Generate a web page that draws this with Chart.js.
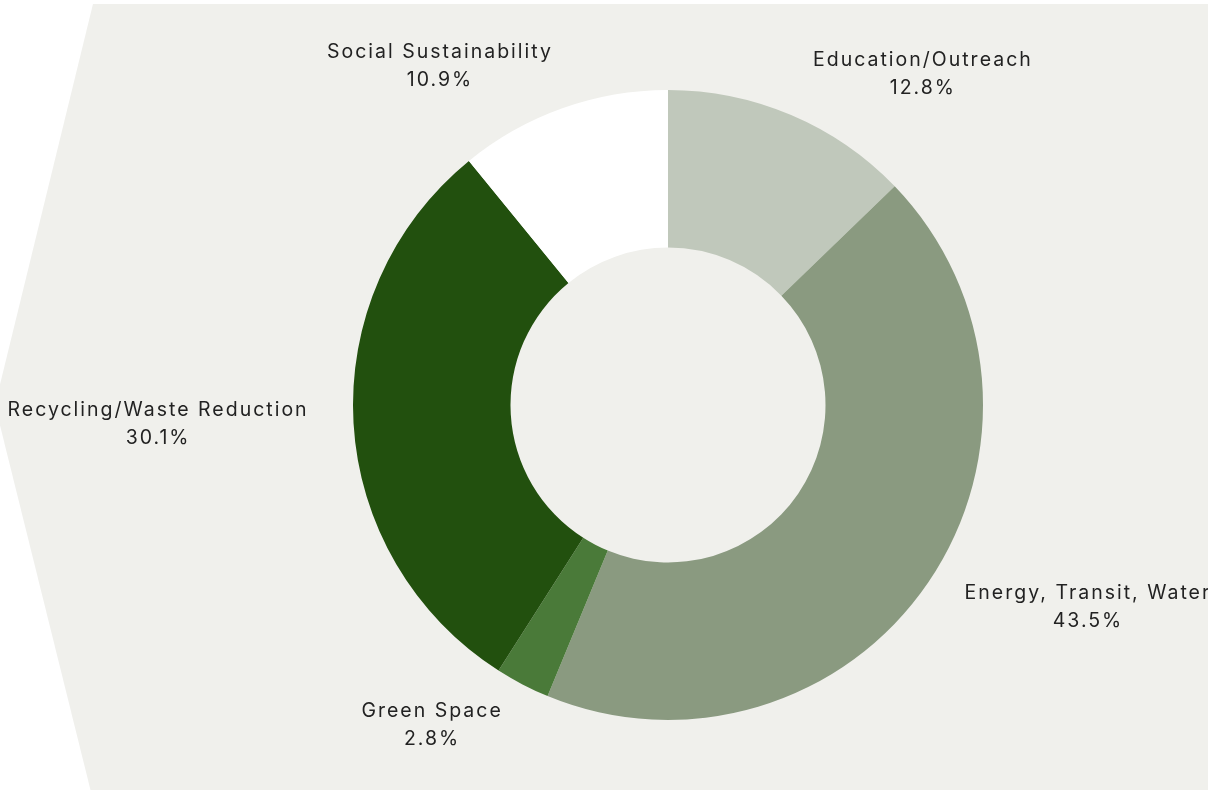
<!DOCTYPE html>
<html>
<head>
<meta charset="utf-8">
<script src="https://cdn.jsdelivr.net/npm/chart.js@4"></script>
<style>
  html, body { margin: 0; padding: 0; background: #ffffff; }
  #wrap { width: 1208px; height: 790px; position: relative; }
</style>
</head>
<body>
<div id="wrap"><canvas id="chart" width="1208" height="790"></canvas></div>
<script>
// Data (clockwise from 12 o'clock)
const categories = ['Education/Outreach', 'Energy, Transit, Water', 'Green Space', 'Recycling/Waste Reduction', 'Social Sustainability'];
const shares     = [12.8, 43.5, 2.8, 30.1, 10.9];
const sliceColors = ['#c0c8bb', '#8a9a80', '#4a7a39', '#22500e', '#ffffff'];

// label anchor, relative to the doughnut centre, in units of outer radius
const labelOffsets = [[0.806, -1.051], [1.330, 0.641], [-0.752, 1.016], [-1.622, 0.060], [-0.727, -1.076]];

// pale hexagon-ish panel behind the chart
const panelPlugin = {
  id: 'panel',
  beforeDraw(chart) {
    const ctx = chart.ctx;
    const w = chart.width, h = chart.height;
    ctx.save();
    ctx.fillStyle = '#ffffff';
    ctx.fillRect(0, 0, w, h);
    ctx.fillStyle = '#f0f0ec';
    ctx.beginPath();
    ctx.moveTo(93, 4);
    ctx.lineTo(w, 4);
    ctx.lineTo(w, h + 10);
    ctx.lineTo(93, h + 10);
    ctx.lineTo(-5, 405);
    ctx.closePath();
    ctx.fill();
    ctx.restore();
  }
};

const labelPlugin = {
  id: 'sliceLabels',
  afterDatasetsDraw(chart) {
    const ctx = chart.ctx;
    const arcs = chart.getDatasetMeta(0).data;
    ctx.save();
    ctx.font = '400 19.5px Inter, "Noto Sans", sans-serif';
    ctx.letterSpacing = '2px';
    ctx.fillStyle = '#222222';
    ctx.textAlign = 'center';
    ctx.textBaseline = 'middle';
    arcs.forEach((arc, i) => {
      const r = arc.outerRadius;
      const x = arc.x + labelOffsets[i][0] * r + 1;
      const y = arc.y + labelOffsets[i][1] * r;
      ctx.fillText(categories[i], x, y - 14);
      ctx.fillText(shares[i].toFixed(1) + '%', x, y + 14);
    });
    ctx.restore();
  }
};

new Chart(document.getElementById('chart').getContext('2d'), {
  type: 'doughnut',
  data: {
    labels: categories,
    datasets: [{
      data: shares,
      backgroundColor: sliceColors,
      borderWidth: 0,
      hoverBorderWidth: 0,
      offset: 0,
      hoverOffset: 0
    }]
  },
  options: {
    responsive: false,
    animation: false,
    events: [],
    cutout: '50%',
    layout: { padding: { left: 353, top: 90, right: 225, bottom: 70 } },
    plugins: {
      legend: { display: false },
      tooltip: { enabled: false }
    }
  },
  plugins: [panelPlugin, labelPlugin]
});
</script>
</body>
</html>
